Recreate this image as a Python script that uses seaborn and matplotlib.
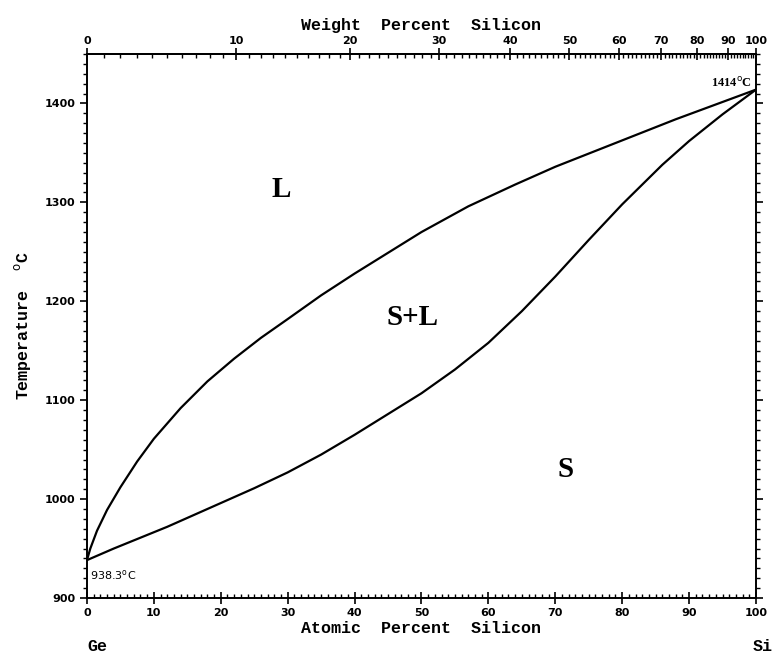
import numpy as np
import matplotlib
matplotlib.use("Agg")
import matplotlib.pyplot as plt
from matplotlib.ticker import MultipleLocator, FixedLocator
import seaborn as sns

# Ge-Si phase diagram: liquidus and solidus (atomic % Si vs temperature)
liquidus_x = [0, 0.5, 1.5, 3, 5, 7.5, 10, 14, 18, 22, 26, 30, 35, 40, 45, 50,
              57, 64, 70, 76, 82, 88, 94, 100]
liquidus_t = [938.3, 950, 968, 989, 1012, 1038, 1061, 1092, 1119, 1142, 1163, 1182,
              1206, 1228, 1249, 1270, 1296, 1318, 1336, 1352, 1368, 1384, 1399, 1414]

solidus_x = [0, 4, 8, 12, 16, 20, 25, 30, 35, 40, 45, 50, 55, 60, 65, 70, 75, 80,
             86, 90, 95, 100]
solidus_t = [938.3, 950, 961, 972, 984, 996, 1011, 1027, 1045, 1065, 1086, 1107,
             1131, 1158, 1190, 1225, 1262, 1298, 1338, 1362, 1389, 1414]

bottom_ticks = [0, 10, 20, 30, 40, 50, 60, 70, 80, 90, 100]
top_ticks = [0, 10, 20, 30, 40, 50, 60, 70, 80, 90, 100]
y_ticks = [900, 1000, 1100, 1200, 1300, 1400]

M_SI = 28.09
M_GE = 72.63


def at_to_wt(a):
    a = np.clip(np.asarray(a, dtype=float), 0, 100)
    return 100 * a * M_SI / (a * M_SI + (100 - a) * M_GE)


def wt_to_at(w):
    w = np.clip(np.asarray(w, dtype=float), 0, 100)
    return 100 * (w / M_SI) / (w / M_SI + (100 - w) / M_GE)


sns.set_theme(style="ticks")
plt.rcParams["font.family"] = ["DejaVu Sans"]
plt.rcParams["text.color"] = "black"
plt.rcParams["axes.labelcolor"] = "black"
plt.rcParams["xtick.color"] = "black"
plt.rcParams["ytick.color"] = "black"

fig = plt.figure(figsize=(7.73, 6.53), dpi=100)
ax = fig.add_axes([0.1125, 0.0842, 0.8655, 0.8331])

sns.lineplot(x=liquidus_x, y=liquidus_t, color="black", linewidth=1.6, sort=False, ax=ax)
sns.lineplot(x=solidus_x, y=solidus_t, color="black", linewidth=1.6, sort=False, ax=ax)

ax.set_xlim(0, 100)
ax.set_ylim(900, 1450)

for s in ax.spines.values():
    s.set_linewidth(1.4)
    s.set_color("black")

tick_font = dict(fontsize=8, fontweight="bold", family="DejaVu Sans", color="black")
ax.set_xticks(bottom_ticks)
ax.set_xticklabels([str(t) for t in bottom_ticks], **tick_font)
ax.set_yticks(y_ticks)
ax.set_yticklabels([str(t) for t in y_ticks], **tick_font)
ax.xaxis.set_minor_locator(MultipleLocator(1))
ax.yaxis.set_minor_locator(MultipleLocator(10))
ax.tick_params(axis="x", which="major", direction="inout", length=8, width=1.2, pad=3)
ax.tick_params(axis="x", which="minor", direction="in", length=3, width=1)
ax.tick_params(axis="y", which="major", direction="out", length=5, width=1.2,
               right=True, left=True)
ax.tick_params(axis="y", which="minor", direction="out", length=3, width=1, right=True, left=True)

# top axis in weight percent
sec = ax.secondary_xaxis("top", functions=(at_to_wt, wt_to_at))
sec.xaxis.set_major_locator(FixedLocator(top_ticks))
sec.xaxis.set_minor_locator(MultipleLocator(1))
sec.set_xticklabels([str(t) for t in top_ticks], **tick_font)
sec.tick_params(which="major", direction="inout", length=8, width=1.2, pad=2)
sec.tick_params(which="minor", direction="in", length=3, width=1)
sec.spines["top"].set_linewidth(1.4)

label_font = dict(family="Liberation Mono", fontsize=12, fontweight="bold", color="black")
sec.set_xlabel("Weight  Percent  Silicon", labelpad=4, **label_font)
ax.set_xlabel("Atomic  Percent  Silicon", labelpad=2, **label_font)
ax.set_ylabel("Temperature  $^{\\mathrm{o}}$C", labelpad=8, **label_font)

ax.text(0.0, -0.075, "Ge", transform=ax.transAxes, ha="left", va="top", **label_font)
ax.text(0.995, -0.075, "Si", transform=ax.transAxes, ha="left", va="top", **label_font)

# phase region labels
region_font = dict(family="Liberation Serif", fontsize=21, fontweight="bold",
                   ha="center", va="center", color="black")
ax.text(29.1, 1313, "L", **region_font)
ax.text(48.7, 1184, "S+L", **region_font)
ax.text(71.6, 1030, "S", **region_font)

# melting points
ax.text(99.4, 1421, "1414$^{\\mathrm{o}}$C", ha="right", va="center", fontsize=9,
        fontweight="bold", family="Liberation Serif")
ax.text(0.5, 923, "938.3$^{\\mathrm{o}}$C", ha="left", va="center", fontsize=8,
        family="DejaVu Sans")

fig.savefig("out.png", dpi=100)
